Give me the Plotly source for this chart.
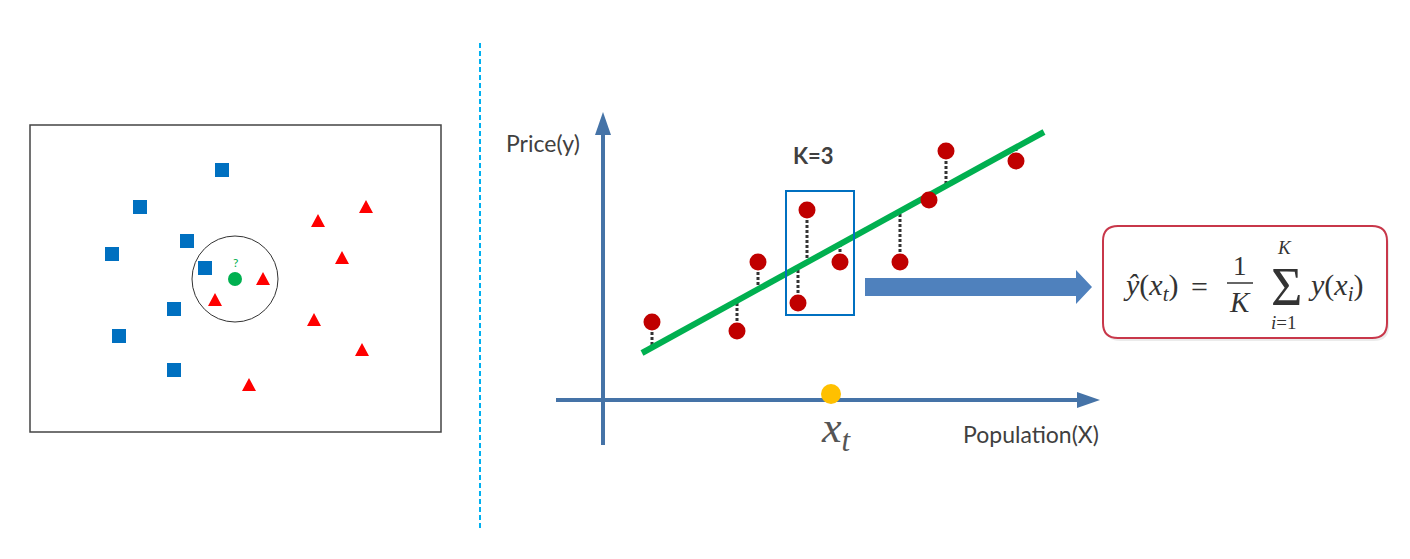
import plotly.graph_objects as go

W, H = 1410, 559

# ---------------- Left panel: kNN classification ----------------
panel_x0, panel_y0, panel_x1, panel_y1 = 30, 125, 441, 432
blue_x = [222, 140, 187, 112, 205, 174, 119, 174]
blue_y = [170, 207, 241, 254, 268, 309, 336, 370]
red_x = [366, 318, 342, 263, 215, 314, 362, 249]
red_y = [207, 221, 258, 279, 300, 320, 350, 385]
query_x, query_y = 235, 279
knn_radius = 43

# ---------------- Right panel: kNN regression ----------------
reg_x = [652, 737, 758, 807, 798, 840, 900, 929, 946, 1016]
reg_y = [322, 331, 262, 210, 303, 262, 262, 200, 151, 161]
fit_x = [642, 1044]
fit_y = [353, 132]
k_box = (786, 191, 854, 315)
xt_x, xt_y = 831, 394
yaxis_x, yaxis_y0, yaxis_y1 = 603, 445, 112
xaxis_y, xaxis_x0, xaxis_x1 = 400, 556, 1100
arrow_body = (865, 278, 1076, 296)
arrow_head = (1076, 270, 1092, 304)
formula_box = (1103, 226, 1387, 338)

AXIS_C = "#4573a7"
TXT_C = "#404040"

fig = go.Figure()

# dashed separator
fig.add_shape(type="line", x0=480, x1=480, y0=43, y1=529,
              line=dict(color="#00b0f0", width=2, dash="5px,3px"), layer="below")

# left panel frame and neighbourhood circle
fig.add_shape(type="rect", x0=panel_x0, y0=panel_y0, x1=panel_x1, y1=panel_y1,
              line=dict(color="#444444", width=1.5), layer="below")
fig.add_shape(type="circle", x0=query_x - knn_radius, x1=query_x + knn_radius,
              y0=query_y - knn_radius, y1=query_y + knn_radius,
              line=dict(color="#333333", width=1), layer="below")

fig.add_trace(go.Scatter(x=blue_x, y=blue_y, mode="markers",
                         marker=dict(symbol="square", size=14, color="#0070c0", line=dict(width=0)),
                         hoverinfo="skip"))
# triangles built from the centres
tx, ty = [], []
for cx, cy in zip(red_x, red_y):
    tx += [cx - 7, cx + 7, cx, cx - 7, None]
    ty += [cy + 6, cy + 6, cy - 7, cy + 6, None]
fig.add_trace(go.Scatter(x=tx, y=ty, mode="lines", fill="toself", fillcolor="#ff0000",
                         line=dict(width=0, color="#ff0000"), hoverinfo="skip"))
fig.add_trace(go.Scatter(x=[query_x], y=[query_y], mode="markers",
                         marker=dict(size=14, color="#00b050", line=dict(width=0)), hoverinfo="skip"))
fig.add_annotation(x=query_x, y=query_y - 17, text="?", showarrow=False,
                   font=dict(family="Lato", size=12, color="#00b050"), xanchor="center", yanchor="middle")

# axes with arrow heads
fig.add_shape(type="line", x0=yaxis_x, x1=yaxis_x, y0=yaxis_y0, y1=yaxis_y1 + 20,
              line=dict(color=AXIS_C, width=4), layer="below")
fig.add_shape(type="path", path=f"M{yaxis_x - 8},{yaxis_y1 + 23} L{yaxis_x + 8},{yaxis_y1 + 23} L{yaxis_x},{yaxis_y1} Z",
              fillcolor=AXIS_C, line=dict(width=0), layer="below")
fig.add_shape(type="line", x0=xaxis_x0, x1=xaxis_x1 - 20, y0=xaxis_y, y1=xaxis_y,
              line=dict(color=AXIS_C, width=4), layer="below")
fig.add_shape(type="path", path=f"M{xaxis_x1 - 23},{xaxis_y - 8} L{xaxis_x1 - 23},{xaxis_y + 8} L{xaxis_x1},{xaxis_y} Z",
              fillcolor=AXIS_C, line=dict(width=0), layer="below")

# residual dotted lines (point -> fitted line)
slope = (fit_y[1] - fit_y[0]) / (fit_x[1] - fit_x[0])
dx, dy = [], []
for px, py in zip(reg_x, reg_y):
    ly = fit_y[0] + slope * (px - fit_x[0])
    dx += [px, px, None]
    dy += [py, ly, None]
fig.add_trace(go.Scatter(x=dx, y=dy, mode="lines",
                         line=dict(color="#333333", width=3, dash="3px,2px"), hoverinfo="skip"))
# fitted line
fig.add_trace(go.Scatter(x=fit_x, y=fit_y, mode="lines",
                         line=dict(color="#00b050", width=6), hoverinfo="skip"))
# data points
fig.add_trace(go.Scatter(x=reg_x, y=reg_y, mode="markers",
                         marker=dict(size=17, color="#c00000", line=dict(width=0)), hoverinfo="skip"))
# query point on the x axis
fig.add_trace(go.Scatter(x=[xt_x], y=[xt_y], mode="markers",
                         marker=dict(size=20, color="#ffc000", line=dict(width=0)), hoverinfo="skip"))

# K neighbourhood box
fig.add_shape(type="rect", x0=k_box[0], y0=k_box[1], x1=k_box[2], y1=k_box[3],
              line=dict(color="#0070c0", width=2))

# big arrow
bx0, by0, bx1, by1 = arrow_body
hx0, hy0, hx1, hy1 = arrow_head
fig.add_shape(type="path",
              path=(f"M{bx0},{by0} L{bx1},{by0} L{hx0},{hy0} L{hx1},{(hy0 + hy1) / 2} "
                    f"L{hx0},{hy1} L{bx1},{by1} L{bx0},{by1} Z"),
              fillcolor="#4f81bd", line=dict(width=0), layer="below")

# formula box (rounded)
def rounded(x0, y0, x1, y1, r):
    return (f"M{x0 + r},{y0} L{x1 - r},{y0} Q{x1},{y0} {x1},{y0 + r} L{x1},{y1 - r} "
            f"Q{x1},{y1} {x1 - r},{y1} L{x0 + r},{y1} Q{x0},{y1} {x0},{y1 - r} "
            f"L{x0},{y0 + r} Q{x0},{y0} {x0 + r},{y0} Z")

fx0, fy0, fx1, fy1 = formula_box
fig.add_shape(type="path", path=rounded(fx0 + 2, fy0 + 3, fx1 + 2, fy1 + 3, 15),
              fillcolor="rgba(0,0,0,0.08)", line=dict(width=0), layer="below")
fig.add_shape(type="path", path=rounded(fx0, fy0, fx1, fy1, 15),
              fillcolor="white", line=dict(color="#c8374a", width=2), layer="below")

# labels
fig.add_annotation(x=543, y=143, text="Price(y)", showarrow=False,
                   font=dict(family="Lato", size=23, color=TXT_C), xanchor="center", yanchor="middle")
fig.add_annotation(x=813, y=155, text="<b>K=3</b>", showarrow=False,
                   font=dict(family="Lato", size=22, color=TXT_C), xanchor="center", yanchor="middle")
fig.add_annotation(x=1031, y=434, text="Population(X)", showarrow=False,
                   font=dict(family="Lato", size=23, color=TXT_C), xanchor="center", yanchor="middle")

MF = "Liberation Serif"
MC = "#333333"
fig.add_annotation(x=836, y=430, text="<i>x</i><sub><i>t</i></sub>", showarrow=False,
                   font=dict(family=MF, size=44, color="#555555"),
                   xanchor="center", yanchor="middle")

# formula
fig.add_annotation(x=1151, y=287, text="<i>ŷ</i>(<i>x</i><sub><i>t</i></sub>)", showarrow=False,
                   font=dict(family=MF, size=30, color=MC), xanchor="center", yanchor="middle")
fig.add_annotation(x=1199, y=286, text="=", showarrow=False,
                   font=dict(family=MF, size=30, color=MC), xanchor="center", yanchor="middle")
fig.add_annotation(x=1240, y=266, text="1", showarrow=False,
                   font=dict(family=MF, size=27, color=MC), xanchor="center", yanchor="middle")
fig.add_shape(type="line", x0=1227, x1=1253, y0=283, y1=283, line=dict(color=MC, width=1.5))
fig.add_annotation(x=1240, y=302, text="<i>K</i>", showarrow=False,
                   font=dict(family=MF, size=29, color=MC), xanchor="center", yanchor="middle")
fig.add_annotation(x=1286, y=287, text="Σ", showarrow=False,
                   font=dict(family=MF, size=54, color=MC), xanchor="center", yanchor="middle")
fig.add_annotation(x=1284, y=247, text="<i>K</i>", showarrow=False,
                   font=dict(family=MF, size=19, color=MC), xanchor="center", yanchor="middle")
fig.add_annotation(x=1284, y=322, text="<i>i</i>=1", showarrow=False,
                   font=dict(family=MF, size=19, color=MC), xanchor="center", yanchor="middle")
fig.add_annotation(x=1336, y=287, text="<i>y</i>(<i>x</i><sub><i>i</i></sub>)", showarrow=False,
                   font=dict(family=MF, size=30, color=MC), xanchor="center", yanchor="middle")

fig.update_layout(
    width=W, height=H, margin=dict(l=0, r=0, t=0, b=0),
    paper_bgcolor="white", plot_bgcolor="white", showlegend=False,
    xaxis=dict(range=[0, W], visible=False, fixedrange=True),
    yaxis=dict(range=[H, 0], visible=False, fixedrange=True),
)

fig.write_html("out.html", config=dict(displayModeBar=False, staticPlot=True))
